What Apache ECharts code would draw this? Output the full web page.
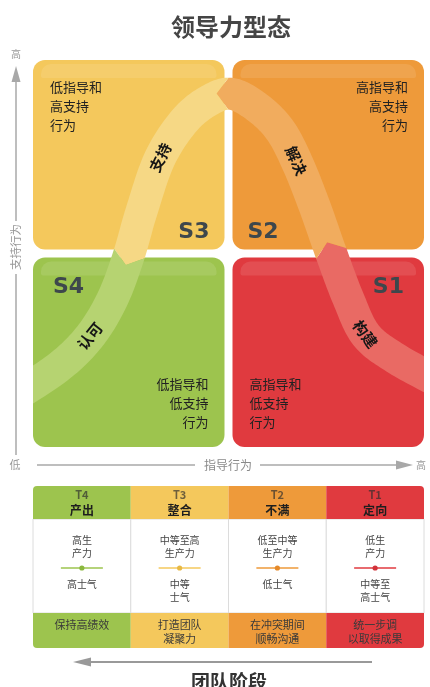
<!DOCTYPE html>
<html><head><meta charset="utf-8">
<script src="https://cdn.jsdelivr.net/npm/echarts@6/dist/echarts.min.js"></script>
<style>html,body{margin:0;padding:0;background:#fff}#c{width:430px;height:687px}</style>
</head><body><div id="c"></div>
<script>
// ---------------- data ----------------
const chartTitle = '领导力型态';
const xAxisName = '指导行为';
const yAxisName = '支持行为';
const lowLabel = '低';
const highLabel = '高';
const stageAxisName = '团队阶段';

const styleNames = ['S1', 'S2', 'S3', 'S4'];
const directiveLevel = [1, 1, 0, 0];   // 0 = low, 1 = high
const supportLevel = [0, 1, 1, 0];     // 0 = low, 1 = high
const styleDescriptions = ['高指导和\n低支持\n行为', '高指导和\n高支持\n行为', '低指导和\n高支持\n行为', '低指导和\n低支持\n行为'];
const bandLabels = ['构建', '解决', '支持', '认可'];

// development curve (directive level, supportive level)
const curveDirective = [-0.07, 0.155, 0.306, 0.416, 0.496, 0.566, 0.657, 0.782, 0.907, 1.018, 1.148, 1.258, 1.343, 1.429, 1.514, 1.599, 1.689, 1.835, 2.035];
const curveSupport   = [0.278, 0.43, 0.582, 0.765, 0.977, 1.22, 1.484, 1.676, 1.777, 1.808, 1.737, 1.625, 1.463, 1.246, 1.003, 0.775, 0.587, 0.471, 0.359];

const teamStages = ['T4', 'T3', 'T2', 'T1'];
const teamNames = ['产出', '整合', '不满', '定向'];
const productivity = ['高生\n产力', '中等至高\n生产力', '低至中等\n生产力', '低生\n产力'];
const morale = ['高士气', '中等\n士气', '低士气', '中等至\n高士气'];
const leaderFocus = ['保持高绩效', '打造团队\n凝聚力', '在冲突期间\n顺畅沟通', '统一步调\n以取得成果'];

// ---------------- styles ----------------
const FONT = '"Noto Sans CJK SC", "Noto Sans", sans-serif';
const quadColors = { S1: '#E03A3F', S2: '#EE9A3A', S3: '#F4C85C', S4: '#9DC44E' };
const bandColors = { S1: '#E96A64', S2: '#F1AC5E', S3: '#F6D885', S4: '#B6D371' };
const stageColors = ['#9DC44E', '#F4C85C', '#EE9A3A', '#E03A3F'];
const stageDotColors = ['#8AB83E', '#E8B944', '#E58A2A', '#D2323A'];
const labelFractions = { S1: 0.55, S2: 0.5, S3: 0.51, S4: 0.45 };

const chart = echarts.init(document.getElementById('c'), null, { renderer: 'canvas' });

function renderQuadrant(params, api) {
  const k = params.dataIndex;
  const dx = api.value(0), sy = api.value(1);
  const tl = api.coord([dx, sy + 1]), br = api.coord([dx + 1, sy]);
  const g = 4;
  const x0 = tl[0] + g, y0 = tl[1] + g, x1 = br[0] - g, y1 = br[1] - g;
  const w = x1 - x0, h = y1 - y0;
  const name = styleNames[k];
  const isTop = sy === 1;
  const leftCol = dx === 0;
  const descLeft = isTop ? leftCol : !leftCol;
  const children = [
    { type: 'rect', shape: { x: x0, y: y0, width: w, height: h, r: 12 }, style: { fill: quadColors[name] } },
    { type: 'rect', shape: { x: x0 + 8, y: y0 + 4, width: w - 16, height: 14, r: [10, 10, 2, 2] }, style: { fill: 'rgba(255,255,255,0.1)' } },
    {
      type: 'text',
      style: {
        text: styleDescriptions[k], x: descLeft ? x0 + 17 : x1 - 16, y: isTop ? y0 + 18 : y1 - 15.5,
        align: descLeft ? 'left' : 'right', verticalAlign: isTop ? 'top' : 'bottom',
        fontSize: 13, lineHeight: 19, fontFamily: FONT, fill: '#222'
      }
    },
    {
      type: 'text',
      style: {
        text: name,
        x: descLeft ? x1 - (isTop ? 15 : 20) : x0 + (isTop ? 15 : 20),
        y: isTop ? y1 - 17 : y0 + 30,
        align: descLeft ? 'right' : 'left', verticalAlign: 'middle',
        fontSize: 22, fontWeight: 'bold', fontFamily: '"DejaVu Sans", sans-serif', fill: '#3E474C'
      }
    }
  ];
  return { type: 'group', children };
}

function catmull(pts, n) {
  const out = [];
  for (let i = 0; i < pts.length - 1; i++) {
    const p0 = pts[Math.max(i - 1, 0)], p1 = pts[i], p2 = pts[i + 1], p3 = pts[Math.min(i + 2, pts.length - 1)];
    for (let s = 0; s < n; s++) {
      const t = s / n, t2 = t * t, t3 = t2 * t;
      const f = (a, b, c, d) => 0.5 * ((2 * b) + (-a + c) * t + (2 * a - 5 * b + 4 * c - d) * t2 + (-a + 3 * b - 3 * c + d) * t3);
      out.push([f(p0[0], p1[0], p2[0], p3[0]), f(p0[1], p1[1], p2[1], p3[1])]);
    }
  }
  out.push(pts[pts.length - 1]);
  return out;
}
function lerp(a, b, t) { return [a[0] + (b[0] - a[0]) * t, a[1] + (b[1] - a[1]) * t]; }
function truncStart(pl, xmin) {
  let i = 0; while (i < pl.length && pl[i][0] < xmin) i++;
  if (i === 0) return pl.slice();
  const a = pl[i - 1], b = pl[i];
  return [lerp(a, b, (xmin - a[0]) / (b[0] - a[0]))].concat(pl.slice(i));
}
function truncEnd(pl, xmax) {
  let i = pl.length - 1; while (i >= 0 && pl[i][0] > xmax) i--;
  if (i === pl.length - 1) return pl.slice();
  const a = pl[i], b = pl[i + 1];
  return pl.slice(0, i + 1).concat([lerp(a, b, (xmax - a[0]) / (b[0] - a[0]))]);
}

function renderBand(params, api) {
  const k = params.dataIndex;
  const name = styleNames[k];
  const pts = curveDirective.map((x, i) => api.coord([x, curveSupport[i]]));
  const mid = api.coord([1, 1]);
  const xm = mid[0], ym = mid[1];
  const xLeft = api.coord([0, 0])[0] + 4, xRight = api.coord([2, 0])[0] - 4;
  const S = catmull(pts, 16);
  const crossings = [];
  const tests = [(p) => p[1] < ym, (p) => p[0] > xm, (p) => p[1] > ym];
  let start = 0;
  tests.forEach((test) => {
    for (let i = start + 1; i < S.length; i++) {
      if (test(S[i]) && !test(S[i - 1])) {
        const a = S[i - 1], b = S[i];
        const t = (test === tests[1]) ? (xm - a[0]) / (b[0] - a[0]) : (ym - a[1]) / (b[1] - a[1]);
        const tan = [b[0] - a[0], b[1] - a[1]];
        const L = Math.hypot(tan[0], tan[1]);
        crossings.push({ idx: i, p: lerp(a, b, t), tan: [tan[0] / L, tan[1] / L] });
        start = i; break;
      }
    }
  });
  const segs = [];
  for (let j = 0; j < 4; j++) {
    const s = j === 0 ? 0 : crossings[j - 1].idx;
    const e = j === 3 ? S.length : crossings[j].idx;
    let line = S.slice(s, e);
    if (j > 0) line = [crossings[j - 1].p].concat(line);
    if (j < 3) line = line.concat([crossings[j].p]);
    const clean = [line[0]];
    for (let i = 1; i < line.length; i++) {
      const q = clean[clean.length - 1];
      const d = Math.hypot(line[i][0] - q[0], line[i][1] - q[1]);
      if (d > 0.6) clean.push(line[i]);
      else if (i === line.length - 1) clean[clean.length - 1] = line[i];
    }
    segs.push(clean);
  }
  const wantX = directiveLevel[k], wantY = supportLevel[k];
  let j = 0;
  for (let q = 0; q < 4; q++) {
    const m = segs[q][Math.floor(segs[q].length / 2)];
    const qx = m[0] > xm ? 1 : 0, qy = m[1] < ym ? 1 : 0;
    if (qx === wantX && qy === wantY) { j = q; break; }
  }
  const line = segs[j];
  const hw = 16, tipH = 12;
  const Lp = [], Rp = [];
  for (let i = 0; i < line.length; i++) {
    const a = line[Math.max(i - 1, 0)], b = line[Math.min(i + 1, line.length - 1)];
    let tx = b[0] - a[0], ty = b[1] - a[1];
    const L = Math.hypot(tx, ty) || 1; tx /= L; ty /= L;
    const nx = -ty, ny = tx;
    Lp.push([line[i][0] + nx * hw, line[i][1] + ny * hw]);
    Rp.push([line[i][0] - nx * hw, line[i][1] - ny * hw]);
  }
  let LL = Lp, RR = Rp, center = line;
  if (j === 0) { LL = truncStart(Lp, xLeft); RR = truncStart(Rp, xLeft); center = truncStart(line, xLeft); }
  if (j === 3) { LL = truncEnd(Lp, xRight); RR = truncEnd(Rp, xRight); center = truncEnd(line, xRight); }
  let poly = LL.slice();
  if (j < 3) {
    const c = crossings[j];
    poly.push([c.p[0] - c.tan[0] * tipH, c.p[1] - c.tan[1] * tipH]);
  }
  poly = poly.concat(RR.slice().reverse());
  if (j > 0) {
    const c = crossings[j - 1];
    poly.push([c.p[0] - c.tan[0] * tipH, c.p[1] - c.tan[1] * tipH]);
  }
  const cum = [0];
  for (let i = 1; i < center.length; i++) cum.push(cum[i - 1] + Math.hypot(center[i][0] - center[i - 1][0], center[i][1] - center[i - 1][1]));
  const target = cum[cum.length - 1] * labelFractions[name];
  let li = 1; while (li < center.length - 1 && cum[li] < target) li++;
  const a = center[li - 1], b = center[li];
  const tt = (target - cum[li - 1]) / ((cum[li] - cum[li - 1]) || 1);
  const lp = lerp(a, b, tt);
  let ang = Math.atan2(-(b[1] - a[1]), b[0] - a[0]);
  if (ang > Math.PI / 2) ang -= Math.PI;
  if (ang < -Math.PI / 2) ang += Math.PI;
  return {
    type: 'group',
    children: [
      { type: 'polygon', shape: { points: poly }, style: { fill: bandColors[name] } },
      {
        type: 'text', x: lp[0], y: lp[1], rotation: ang,
        style: { text: bandLabels[k], x: 0, y: 0, align: 'center', verticalAlign: 'middle', fontSize: 15, fontWeight: 'bold', fontFamily: FONT, fill: '#161616' }
      }
    ]
  };
}

function renderStage(params, api) {
  const i = params.dataIndex;
  const c = api.coord([i, 1]);
  const b = api.coord([i, 0]);
  const w = api.size([1, 0])[0];
  const cx = c[0], x0 = cx - w / 2, top = c[1], bottom = b[1];
  const headH = 33, footH = 35;
  const first = i === 0, last = i === teamStages.length - 1;
  const rHead = first ? [4, 0, 0, 0] : (last ? [0, 4, 0, 0] : 0);
  const rFoot = first ? [0, 0, 0, 4] : (last ? [0, 0, 4, 0] : 0);
  const bodyTop = top + headH, bodyBot = bottom - footH;
  const lineY = bodyTop + 49;
  return {
    type: 'group',
    children: [
      { type: 'rect', shape: { x: x0, y: bodyTop, width: w, height: bodyBot - bodyTop }, style: { fill: '#fff', stroke: '#dcdcdc', lineWidth: 1 } },
      { type: 'rect', shape: { x: x0, y: top, width: w, height: headH, r: rHead }, style: { fill: stageColors[i] } },
      { type: 'rect', shape: { x: x0, y: bodyBot, width: w, height: footH, r: rFoot }, style: { fill: stageColors[i] } },
      { type: 'text', style: { text: teamStages[i], x: cx, y: top + 9, align: 'center', verticalAlign: 'middle', fontSize: 11, fontWeight: 'bold', fontFamily: FONT, fill: 'rgba(45,45,45,0.68)' } },
      { type: 'text', style: { text: teamNames[i], x: cx, y: top + 24, align: 'center', verticalAlign: 'middle', fontSize: 12, fontWeight: 'bold', fontFamily: FONT, fill: '#1e1e1e' } },
      { type: 'text', style: { text: productivity[i], x: cx, y: bodyTop + 15, align: 'center', verticalAlign: 'top', fontSize: 10, lineHeight: 12.5, fontFamily: FONT, fill: '#444' } },
      { type: 'line', shape: { x1: cx - 21, y1: lineY, x2: cx + 21, y2: lineY }, style: { stroke: stageColors[i], lineWidth: 1.3 } },
      { type: 'circle', shape: { cx: cx, cy: lineY, r: 2.6 }, style: { fill: stageDotColors[i] } },
      { type: 'text', style: { text: morale[i], x: cx, y: lineY + 10, align: 'center', verticalAlign: 'top', fontSize: 10, lineHeight: 13, fontFamily: FONT, fill: '#444' } },
      { type: 'text', style: { text: leaderFocus[i], x: cx, y: bodyBot + 5, align: 'center', verticalAlign: 'top', fontSize: 11, lineHeight: 14, fontFamily: FONT, fill: '#3a3a3a' } }
    ]
  };
}

const axisGray = '#a8a8a8';
const option = {
  animation: false,
  backgroundColor: '#fff',
  title: {
    text: chartTitle, left: 166, top: 10,
    textStyle: { fontSize: 24, fontWeight: 'bold', color: '#454545', fontFamily: FONT }
  },
  grid: [
    { left: 29, right: 2, top: 56, bottom: 236 },
    { left: 33, right: 6, top: 486, height: 162 }
  ],
  xAxis: [
    { gridIndex: 0, type: 'value', min: 0, max: 2, show: false },
    { gridIndex: 1, type: 'category', data: teamStages, show: false }
  ],
  yAxis: [
    { gridIndex: 0, type: 'value', min: 0, max: 2, show: false },
    { gridIndex: 1, type: 'value', min: 0, max: 1, show: false }
  ],
  series: [
    {
      type: 'custom', xAxisIndex: 0, yAxisIndex: 0, z: 2,
      data: styleNames.map((n, i) => [directiveLevel[i], supportLevel[i]]),
      renderItem: renderQuadrant
    },
    {
      type: 'custom', xAxisIndex: 0, yAxisIndex: 0, z: 3,
      data: styleNames.map((n, i) => [directiveLevel[i] + 0.5, supportLevel[i] + 0.5]),
      renderItem: renderBand
    },
    {
      type: 'custom', xAxisIndex: 1, yAxisIndex: 1, z: 2,
      data: teamStages.map((s, i) => [i, 1]),
      renderItem: renderStage
    }
  ],
  graphic: [
    { type: 'line', shape: { x1: 16, y1: 80, x2: 16, y2: 221 }, style: { stroke: axisGray, lineWidth: 1.5 } },
    { type: 'line', shape: { x1: 16, y1: 274, x2: 16, y2: 455 }, style: { stroke: axisGray, lineWidth: 1.5 } },
    { type: 'polygon', shape: { points: [[16, 66], [11.5, 82], [20.5, 82]] }, style: { fill: axisGray } },
    { type: 'text', x: 16, y: 54, style: { text: highLabel, x: 0, y: 0, align: 'center', verticalAlign: 'middle', fontSize: 10, fontFamily: FONT, fill: '#999' } },
    { type: 'text', x: 16, y: 247, rotation: Math.PI / 2, style: { text: yAxisName, x: 0, y: 0, align: 'center', verticalAlign: 'middle', fontSize: 11.5, fontFamily: FONT, fill: '#999' } },
    { type: 'text', x: 15, y: 465, style: { text: lowLabel, x: 0, y: 0, align: 'center', verticalAlign: 'middle', fontSize: 11, fontFamily: FONT, fill: '#999' } },
    { type: 'line', shape: { x1: 37, y1: 465, x2: 195, y2: 465 }, style: { stroke: axisGray, lineWidth: 1.5 } },
    { type: 'text', x: 228, y: 465, style: { text: xAxisName, x: 0, y: 0, align: 'center', verticalAlign: 'middle', fontSize: 12, fontFamily: FONT, fill: '#8a8a8a' } },
    { type: 'line', shape: { x1: 260, y1: 465, x2: 398, y2: 465 }, style: { stroke: axisGray, lineWidth: 1.5 } },
    { type: 'polygon', shape: { points: [[413, 465], [396, 460.5], [396, 469.5]] }, style: { fill: axisGray } },
    { type: 'text', x: 421, y: 465, style: { text: highLabel, x: 0, y: 0, align: 'center', verticalAlign: 'middle', fontSize: 10, fontFamily: FONT, fill: '#999' } },
    { type: 'polygon', shape: { points: [[73, 662], [91, 657.5], [91, 666.5]] }, style: { fill: '#999' } },
    { type: 'line', shape: { x1: 90, y1: 662, x2: 372, y2: 662 }, style: { stroke: '#999', lineWidth: 2 } },
    { type: 'text', x: 229, y: 682, style: { text: stageAxisName, x: 0, y: 0, align: 'center', verticalAlign: 'middle', fontSize: 19, fontWeight: 'bold', fontFamily: FONT, fill: '#333' } }
  ]
};
chart.setOption(option);
</script>
</body></html>
